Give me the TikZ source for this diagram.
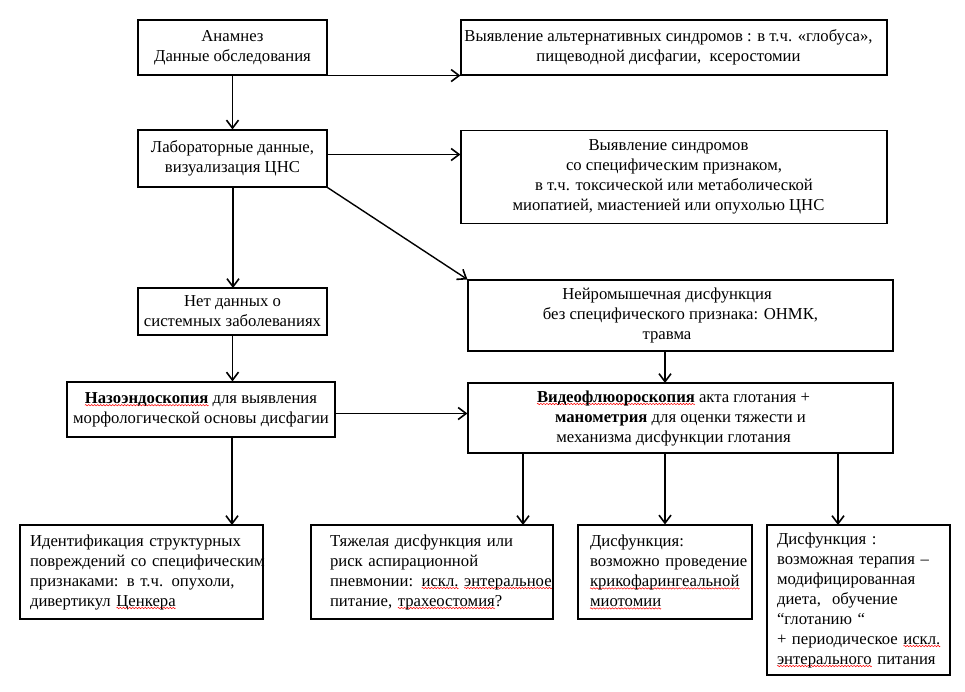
\documentclass[tikz,border=0pt]{standalone}
\usepackage{fontspec}
\setmainfont{Liberation Serif}
\usetikzlibrary{arrows.meta}
\newsavebox\sperrbox
\newcommand\wavepiece{\tikz{\useasboundingbox (0pt,-0.8pt) rectangle (3pt,0.8pt);
  \draw[red, line width=0.5pt] (0pt,0pt) sin (0.75pt,0.7pt) cos (1.5pt,0pt) sin (2.25pt,-0.7pt) cos (3pt,0pt);}}
\newcommand\sperr[1]{\sbox\sperrbox{#1}\rlap{\lower2.8pt\hbox to\wd\sperrbox{\xleaders\hbox{\wavepiece}\hfil}}\usebox\sperrbox}
\newcommand\lf[1]{\mbox{#1}}
\newcommand\sh[1]{\hspace*{#1}}
\tikzset{
  box/.style={draw, line width=1.1pt, inner sep=0pt, align=center,
    font=\fontsize{16.7}{20}\selectfont},
  lbox/.style={box, align=left},
  arr/.style={line width=1.8pt, -{Straight Barb[length=8pt,width=12pt,line width=1.6pt]}},
}
\begin{document}
\begin{tikzpicture}[x=1pt,y=-1pt]
\useasboundingbox[fill=white] (0,0) rectangle (965,691);

\node[box, minimum width=189pt, minimum height=55pt] (b1) at (232.5,47.5)
  {Анамнез\\Данные обследования};
\node[box, minimum width=426pt, minimum height=55pt] (b2) at (674,47.5)
  {Выявление альтернативных синдромов : в т.ч. «глобуса»,\sh{11pt}\\пищеводной дисфагии,\ \ ксеростомии\sh{11pt}};
\node[box, minimum width=189pt, minimum height=57pt] (b3) at (232.5,158.5)
  {Лабораторные данные,\\визуализация ЦНС};
\node[box, minimum width=426pt, minimum height=93pt] (b4) at (674,177)
  {Выявление синдромов\sh{11pt}\\со специфическим признаком,\sh{11pt}\\в т.ч. токсической или метаболической\sh{11pt}\\миопатией, миастенией или опухолью ЦНС\sh{11pt}};
\node[box, minimum width=189pt, minimum height=47pt] (b5) at (232.5,311.5)
  {Нет данных о\\системных заболеваниях};
\node[box, minimum width=425pt, minimum height=71pt] (b6) at (680.5,315.5)
  {Нейромышечная дисфункция\sh{27pt}\\без специфического признака: ОНМК,\sh{27pt}\\травма\sh{27pt}};
\node[box, minimum width=268pt, minimum height=55pt] (b7) at (201,409.5)
  {\sperr{\textbf{Назоэндоскопия}} для выявления\\морфологической основы дисфагии};
\node[box, minimum width=425pt, minimum height=70pt] (b8) at (680.5,418)
  {\sperr{\textbf{Видеофлюороскопия}} акта глотания +\sh{14pt}\\\textbf{манометрия} для оценки тяжести и\sh{14pt}\\механизма дисфункции глотания\sh{14pt}};

\node[lbox, text width=223pt, minimum width=243pt, minimum height=94pt] (b9) at (141.5,572)
  {\lf{Идентификация структурных}\\\lf{повреждений со специфическим}\\\lf{признаками: в т.ч. опухоли,}\\\lf{дивертикул \sperr{Ценкера}}};
\node[lbox, text width=204pt, minimum width=242pt, minimum height=94pt] (b10) at (432,572)
  {\lf{Тяжелая дисфункция или}\\\lf{риск аспирационной}\\\lf{пневмонии: \sperr{искл.} \sperr{энтеральное}}\\\lf{питание, \sperr{трахеостомия}?}};
\node[lbox, text width=150pt, minimum width=174pt, minimum height=94pt] (b11) at (665,572)
  {\lf{Дисфункция:}\\\lf{возможно проведение}\\\lf{\sperr{крикофарингеальной}}\\\lf{\sperr{миотомии}}};
\node[lbox, text width=163pt, minimum width=183pt, minimum height=150pt] (b12) at (858.5,600)
  {\lf{Дисфункция :}\\\lf{возможная терапия –}\\\lf{модифицированная}\\\lf{диета,\ \ обучение}\\\lf{“глотанию “}\\\lf{+ периодическое \sperr{искл.}}\\\lf{\sperr{энтерального} питания}};

\coordinate (t3) at (233,288);
\coordinate (t9) at (232,525);
\coordinate (t10) at (523,525);
\coordinate (t12) at (838,525);
\coordinate (t8) at (665,383);

\draw[arr] (b1.south east) -- (b2.south west);
\draw[arr] (b1.south) -- (b3.north);
\draw[arr] ([yshift=4pt]b3.east) -- ([yshift=4pt]b3.east -| b4.west);
\draw[arr] (t3 |- b3.south) -- (t3);
\draw[arr, line width=1.4pt] (b3.south east) -- (b6.north west);
\draw[arr] (b5.south) -- (b5.south |- b7.north);
\draw[arr] ([yshift=-4pt]b7.east) -- ([yshift=-4pt]b7.east -| b8.west);
\draw[arr] (t8 |- b6.south) -- (t8);
\draw[arr] (t9 |- b7.south) -- (t9);
\draw[arr] (t10 |- b8.south) -- (t10);
\draw[arr] (b11.north |- b8.south) -- (b11.north);
\draw[arr] (t12 |- b8.south) -- (t12);
\end{tikzpicture}
\end{document}
